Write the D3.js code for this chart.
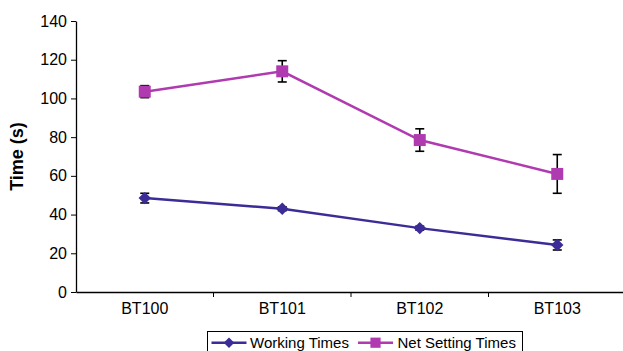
<!DOCTYPE html>
<html><head><meta charset="utf-8">
<script src="https://cdn.jsdelivr.net/npm/d3@7"></script>
<style>body{margin:0;background:#fff;}svg{display:block;font-family:"Liberation Sans",Arial,sans-serif;}</style>
</head><body>
<svg id="c" width="623" height="351"></svg>
<script>
const categories = ["BT100","BT101","BT102","BT103"];
const workingTimes = [48.5, 43, 33, 24.3];
const workingErr = [2.5, 1, 1, 2.6];
const netSettingTimes = [103.5, 114, 78.5, 61];
const netSettingErr = [3.1, 5.5, 5.8, 10];
const yTicks = [0,20,40,60,80,100,120,140];
const seriesNames = ["Working Times","Net Setting Times"];
const colors = ["#3b2c97","#b03ab0"];

const svg = d3.select("#c");
const x = d3.scaleBand().domain(categories).range([76, 626]);
const y = d3.scaleLinear().domain([0,140]).range([292, 21]);

const yAxis = svg.append("g").attr("transform","translate(76,0)")
  .call(d3.axisLeft(y).tickValues(yTicks).tickSize(5).tickSizeOuter(0).tickPadding(4));
yAxis.select(".domain").attr("stroke","#000").attr("stroke-width",1.3);
yAxis.selectAll(".tick line").attr("stroke","#000").attr("stroke-width",1);
yAxis.selectAll("text").attr("font-size",16).attr("fill","#000");
const xAxis = svg.append("g").attr("transform","translate(0,292)")
  .call(d3.axisBottom(x).tickSize(0).tickSizeOuter(0).tickPadding(11));
xAxis.select(".domain").attr("stroke","#000").attr("stroke-width",1.3);
xAxis.selectAll("text").attr("font-size",16).attr("fill","#000");
svg.append("g").selectAll("line").data(categories.slice(1)).join("line")
  .attr("x1",d=>x(d)).attr("x2",d=>x(d)).attr("y1",292).attr("y2",297)
  .attr("stroke","#000").attr("stroke-width",1);

svg.append("text").attr("transform","translate(23,"+((y(0)+y(140))/2)+") rotate(-90)")
  .attr("text-anchor","middle").attr("font-size",18).attr("font-weight","bold").text("Time (s)");

const cx = d => x(d) + x.bandwidth()/2;
const diamond = "M0,-6.2L6.2,0L0,6.2L-6.2,0Z";
const square = "M-6,-6H6V6H-6Z";
const series = [
  {vals: workingTimes, err: workingErr, color: colors[0], shape: diamond},
  {vals: netSettingTimes, err: netSettingErr, color: colors[1], shape: square}
];
const line = d3.line().x((d,i)=>cx(categories[i])).y(d=>y(d));
series.forEach(s => {
  svg.append("path").datum(s.vals).attr("d",line).attr("fill","none")
    .attr("stroke",s.color).attr("stroke-width",2.5);
  const g = svg.append("g");
  categories.forEach((c,i) => {
    const v = s.vals[i], e = s.err[i], px = cx(c);
    g.append("line").attr("x1",px).attr("x2",px).attr("y1",y(v+e)).attr("y2",y(v-e)).attr("stroke","#000").attr("stroke-width",1.6);
    [v+e, v-e].forEach(t => g.append("line").attr("x1",px-4.5).attr("x2",px+4.5).attr("y1",y(t)).attr("y2",y(t)).attr("stroke","#000").attr("stroke-width",1.6));
    g.append("path").attr("d",s.shape).attr("transform",`translate(${px},${y(v)})`).attr("fill",s.color);
  });
});

// legend
const lg = svg.append("g");
lg.append("rect").attr("x",207.5).attr("y",331.5).attr("width",315).attr("height",24).attr("fill","#fff").attr("stroke","#000").attr("stroke-width",1);
const items = [{x:211.5, w:35, tx:250}, {x:358, w:35, tx:397.5}];
series.forEach((s,i) => {
  const it = items[i], ly = 342.7;
  lg.append("line").attr("x1",it.x).attr("x2",it.x+it.w).attr("y1",ly).attr("y2",ly).attr("stroke",s.color).attr("stroke-width",2.5);
  lg.append("path").attr("d",s.shape).attr("transform",`translate(${it.x+it.w/2},${ly}) scale(0.85)`).attr("fill",s.color);
  lg.append("text").attr("x",it.tx).attr("y",ly+5.5).attr("font-size",15).attr("fill","#000").text(seriesNames[i]);
});
</script>
</body></html>
